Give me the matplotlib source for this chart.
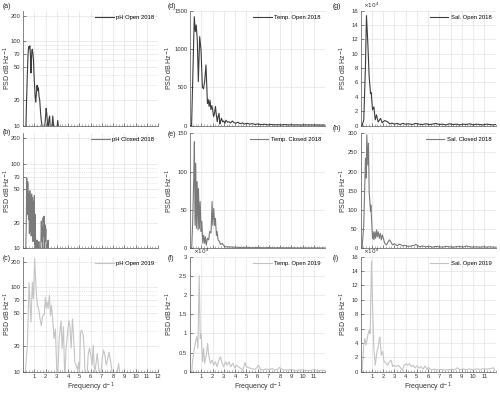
import matplotlib
matplotlib.use("Agg")
import matplotlib.pyplot as plt
from matplotlib.ticker import FixedLocator, FixedFormatter, MultipleLocator, NullFormatter
import numpy as np

plt.rcParams['font.family'] = ['Liberation Sans', 'DejaVu Sans']

# ---------------- data ----------------
# (a) pH Open 2018
ph_open18_f = [0.00, 0.20, 0.28, 0.36, 0.44, 0.50, 0.55, 0.60, 0.65, 0.70,
               0.74, 0.78, 0.82, 0.87, 0.92, 0.97, 1.02, 1.07, 1.12, 1.18,
               1.24, 1.30, 1.36, 1.42, 1.48, 1.54, 1.60, 1.66, 1.72, 1.80,
               1.90, 2.00, 2.05, 2.10, 2.16, 2.22, 2.30, 2.36, 2.42, 2.50,
               2.58, 2.64, 2.70, 2.78, 2.90, 3.00, 3.08, 3.16, 3.25, 3.40,
               4.00, 6.00, 9.00, 12.0]
ph_open18_v = [1, 5, 14, 35, 70, 86, 82, 88, 70, 42,
               60, 78, 80, 72, 60, 40, 30, 22, 19, 24,
               30, 26, 28, 22, 20, 15, 12, 10.5, 9, 8,
               9, 13, 16, 14, 11, 9, 12, 13, 9, 7,
               10, 13, 10, 8, 7, 9, 11.5, 9, 7, 5,
               3, 2, 1, 1]

# (b) pH Closed 2018
ph_closed18_f = [0.00, 0.22, 0.28, 0.32, 0.36, 0.40, 0.44, 0.48, 0.52, 0.56,
                 0.60, 0.64, 0.68, 0.72, 0.76, 0.80, 0.84, 0.88, 0.92, 0.96,
                 1.00, 1.04, 1.08, 1.12, 1.16, 1.20, 1.24, 1.28, 1.32, 1.36,
                 1.40, 1.44, 1.50, 1.56, 1.62, 1.66, 1.70, 1.74, 1.78, 1.82,
                 1.86, 1.90, 1.94, 1.98, 2.02, 2.06, 2.10, 2.16, 2.22, 2.26,
                 2.30, 2.40, 3.00, 6.00, 12.0]
ph_closed18_v = [1, 8, 18, 68, 25, 62, 58, 22, 45, 15,
                 48, 16, 42, 14, 44, 18, 40, 12, 36, 15,
                 42, 11, 25, 9, 12, 8, 12.5, 9, 11, 8,
                 12, 9, 8, 9, 21, 12, 18, 9, 23, 14,
                 24, 10, 19, 12, 17, 9, 11, 8, 12.5, 9,
                 7, 5, 3, 2, 1]

# (c) pH Open 2019
ph_open19_f = [0.00, 0.20, 0.38, 0.53, 0.70, 0.82, 0.91, 1.03, 1.15, 1.27,
               1.39, 1.51, 1.62, 1.74, 1.89, 1.98, 2.04, 2.13, 2.22, 2.34,
               2.43, 2.52, 2.63, 2.75, 2.87, 2.99, 3.08, 3.20, 3.38, 3.47,
               3.59, 3.70, 3.82, 3.94, 4.06, 4.15, 4.27, 4.39, 4.48, 4.60,
               4.71, 4.83, 4.95, 5.00, 5.10, 5.22, 5.34, 5.43, 5.52, 5.67,
               5.78, 5.90, 6.02, 6.14, 6.23, 6.35, 6.50, 6.59, 6.71, 6.86,
               7.03, 7.15, 7.27, 7.39, 7.51, 7.63, 7.75, 7.87, 7.95, 8.20,
               8.49, 8.64, 9.00, 12.0]
ph_open19_v = [1, 10, 20.6, 114, 38.7, 114, 73, 218, 95, 61,
               55, 42, 35, 46, 48, 76, 57, 67, 56, 81,
               46, 61, 42, 24.7, 32, 10.5, 8, 24.7, 40, 18.8,
               34, 8, 19, 27, 40, 36, 19, 42, 27, 13,
               12, 10.5, 13, 8, 29.5, 31, 27, 19, 8, 8,
               15.7, 19, 15.7, 12, 20.6, 9.5, 13, 16.5, 11, 8,
               14, 18, 15.7, 12, 14, 17, 14, 11, 8, 7,
               12.5, 8, 5, 2]

# (d) Temp. Open 2018
temp_open18_f = [0.00, 0.14, 0.26, 0.38, 0.47, 0.55, 0.65, 0.74, 0.86, 0.98,
                 1.10, 1.20, 1.30, 1.42, 1.55, 1.62, 1.70, 1.78, 1.86, 1.94,
                 2.02, 2.10, 2.18, 2.26, 2.34, 2.42, 2.50, 2.58, 2.65, 2.72,
                 2.80, 2.90, 3.00, 3.10, 3.20, 3.33, 3.46, 3.60, 3.77, 3.90,
                 4.06, 4.25, 4.45, 4.65, 4.85, 5.05, 5.30, 5.55, 5.80, 6.05,
                 6.30, 6.60, 6.90, 7.20, 7.50, 7.80, 8.10, 8.40, 8.70, 9.00,
                 9.30, 9.60, 9.90, 10.2, 10.5, 10.8, 11.1, 11.4, 11.7, 12.0]
temp_open18_v = [0, 0, 700, 1420, 1226, 1313, 1117, 573, 1160, 987,
                 500, 480, 573, 791, 291, 340, 250, 330, 210, 260,
                 200, 117, 160, 250, 140, 50, 120, 160, 20, 60,
                 95, 50, 60, 30, 70, 45, 50, 35, 60, 40,
                 30, 45, 25, 35, 20, 30, 20, 25, 15, 22,
                 12, 18, 10, 15, 10, 12, 8, 14, 9, 11,
                 8, 10, 7, 10, 8, 9, 7, 9, 6, 8]

# (e) Temp. Closed 2018
temp_closed18_f = [0.00, 0.15, 0.24, 0.33, 0.39, 0.45, 0.51, 0.57, 0.63, 0.72,
                   0.75, 0.84, 0.90, 0.99, 1.05, 1.14, 1.21, 1.30, 1.36, 1.45,
                   1.54, 1.66, 1.75, 1.87, 1.96, 2.02, 2.11, 2.20, 2.26, 2.35,
                   2.41, 2.50, 2.62, 2.71, 2.86, 3.00, 3.16, 3.46, 3.80, 4.20,
                   4.60, 5.00, 5.50, 6.00, 6.50, 7.00, 7.50, 8.00, 8.50, 9.00,
                   9.50, 10.0, 10.5, 11.0, 11.5, 12.0]
temp_closed18_v = [0, 0, 34.7, 91, 139, 30, 111, 26, 87, 24,
                   78, 26, 61, 22, 35, 6.5, 17, 6.5, 15, 4,
                   13, 11, 22, 20, 61, 30, 52, 30, 39, 17,
                   22, 11, 8.7, 5, 6.5, 3.5, 2, 1.8, 1.5, 1.2,
                   1.0, 1.3, 0.8, 1.0, 0.7, 0.9, 0.6, 0.8, 0.6, 0.7,
                   0.5, 0.6, 0.5, 0.6, 0.4, 0.5]

# (f) Temp. Open 2019 (x 10^4)
temp_open19_f = [0.00, 0.16, 0.22, 0.34, 0.46, 0.61, 0.70, 0.82, 0.91, 1.00,
                 1.12, 1.21, 1.30, 1.45, 1.57, 1.66, 1.81, 1.96, 2.11, 2.26,
                 2.41, 2.56, 2.71, 2.86, 3.00, 3.16, 3.30, 3.46, 3.63, 3.81,
                 3.99, 4.14, 4.29, 4.50, 4.71, 4.89, 5.00, 5.25, 5.49, 5.73,
                 5.90, 6.08, 6.26, 6.50, 6.74, 7.04, 7.28, 7.49, 7.79, 7.94,
                 8.24, 8.60, 9.00, 9.40, 9.80, 10.2, 10.6, 11.0, 11.4, 11.8, 12.0]
temp_open19_v = [0, 0, 0.26, 0.52, 0.74, 0.91, 0.61, 2.5, 0.87, 0.99,
                 0.26, 0.61, 0.22, 0.43, 0.74, 0.43, 0.22, 0.30, 0.17, 0.26,
                 0.13, 0.30, 0.39, 0.22, 0.13, 0.26, 0.17, 0.26, 0.13, 0.22,
                 0.09, 0.17, 0.13, 0.09, 0.04, 0.24, 0.13, 0.10, 0.08, 0.06,
                 0.09, 0.17, 0.06, 0.05, 0.07, 0.04, 0.09, 0.04, 0.06, 0.11,
                 0.05, 0.04, 0.06, 0.03, 0.05, 0.04, 0.03, 0.05, 0.03, 0.04, 0.03]

# (g) Sal. Open 2018 (x 10^4)
sal_open18_f = [0.00, 0.14, 0.29, 0.44, 0.53, 0.65, 0.77, 0.89, 0.95, 1.07,
                1.19, 1.31, 1.42, 1.57, 1.78, 1.93, 2.14, 2.38, 2.60, 2.80,
                3.00, 3.25, 3.50, 3.75, 4.00, 4.30, 4.60, 4.90, 5.20, 5.50,
                5.80, 6.10, 6.40, 6.70, 7.00, 7.30, 7.60, 7.90, 8.20, 8.50,
                8.80, 9.10, 9.40, 9.70, 10.0, 10.3, 10.6, 10.9, 11.2, 11.5, 11.8, 12.0]
sal_open18_v = [0, 0, 0.78, 8.2, 15.3, 11.5, 6.8, 4.5, 4.6, 2.2,
                2.6, 0.8, 1.5, 0.5, 1.0, 0.4, 0.7, 0.55, 0.25, 0.35,
                0.2, 0.3, 0.15, 0.3, 0.2, 0.25, 0.15, 0.3, 0.2, 0.15,
                0.25, 0.15, 0.2, 0.3, 0.15, 0.2, 0.1, 0.25, 0.15, 0.2,
                0.1, 0.2, 0.15, 0.25, 0.1, 0.2, 0.15, 0.1, 0.2, 0.15, 0.1, 0.15]

# (h) Sal. Closed 2018
sal_closed18_f = [0.00, 0.14, 0.29, 0.38, 0.44, 0.50, 0.56, 0.65, 0.71, 0.77,
                  0.83, 0.89, 0.92, 1.01, 1.07, 1.13, 1.19, 1.28, 1.34, 1.43,
                  1.49, 1.58, 1.67, 1.76, 1.85, 1.94, 2.03, 2.15, 2.33, 2.45,
                  2.57, 2.69, 2.84, 3.00, 3.14, 3.29, 3.45, 3.59, 3.75, 3.89,
                  4.10, 4.34, 4.60, 4.80, 4.94, 5.24, 5.50, 5.80, 6.10, 6.40,
                  6.70, 7.00, 7.30, 7.60, 7.90, 8.20, 8.50, 8.80, 9.10, 9.40,
                  9.70, 10.0, 10.3, 10.6, 10.9, 11.2, 11.5, 11.8, 12.0]
sal_closed18_v = [0, 0, 61, 165, 235, 183, 296, 217, 274, 148,
                  122, 96, 113, 61, 26, 43, 22, 43, 26, 48,
                  30, 43, 26, 39, 22, 35, 26, 13, 9, 17,
                  22, 17, 9, 12, 9, 7, 11, 9, 6, 8,
                  6, 5, 7, 8, 10, 4, 6, 4, 5, 3,
                  5, 4, 3, 5, 4, 3, 4, 5, 3, 6,
                  4, 3, 4, 3, 4, 3, 4, 3, 3]

# (i) Sal. Open 2019 (x 10^4)
sal_open19_f = [0.00, 0.14, 0.29, 0.38, 0.50, 0.65, 0.77, 0.86, 0.98, 1.07,
                1.19, 1.31, 1.46, 1.58, 1.67, 1.73, 1.85, 1.97, 2.09, 2.27,
                2.42, 2.57, 2.72, 2.87, 3.01, 3.19, 3.37, 3.58, 3.73, 3.88,
                4.06, 4.18, 4.36, 4.54, 4.72, 4.84, 5.02, 5.23, 5.38, 5.56,
                5.74, 5.92, 6.04, 6.28, 6.58, 6.88, 7.18, 7.47, 7.77, 8.07,
                8.37, 8.61, 8.82, 9.12, 9.42, 9.72, 10.01, 10.31, 10.61, 10.91,
                11.21, 11.51, 11.80, 11.95]
sal_open19_v = [0, 0, 3.7, 4.6, 3.7, 5.1, 5.8, 5.3, 15.4, 9.2,
                3.2, 0.9, 2.8, 3.5, 4.6, 4.8, 2.3, 2.8, 1.4, 1.2,
                0.9, 1.4, 1.6, 0.7, 0.9, 0.7, 0.9, 0.5, 0.2, 0.9,
                1.1, 0.9, 1.1, 0.7, 0.9, 0.5, 0.8, 0.5, 0.7, 0.35,
                0.8, 0.3, 0.6, 0.25, 0.35, 0.25, 0.3, 0.25, 0.25, 0.35,
                0.25, 0.55, 0.3, 0.37, 0.28, 0.37, 0.28, 0.4, 0.3, 0.4,
                0.37, 0.4, 0.55, 0.2]

legend_labels = ["pH Open 2018", "pH Closed 2018", "pH Open 2019",
                 "Temp. Open 2018", "Temp. Closed 2018", "Temp. Open 2019",
                 "Sal. Open 2018", "Sal. Closed 2018", "Sal. Open 2019"]
panel_letters = ["(a)", "(b)", "(c)", "(d)", "(e)", "(f)", "(g)", "(h)", "(i)"]

# ---------------- figure ----------------
W, H = 500, 393
fig = plt.figure(figsize=(W / 100, H / 100), dpi=100)

col_left = [23.1, 190.0, 360.5]
col_w = 135.0
row_bot = [125.6, 248.3, 371.7]
row_h = 115.0

colors = ["#3c3c3c", "#7a7a7a", "#c4c4c4"]

series = [
    (ph_open18_f, ph_open18_v), (ph_closed18_f, ph_closed18_v), (ph_open19_f, ph_open19_v),
    (temp_open18_f, temp_open18_v), (temp_closed18_f, temp_closed18_v), (temp_open19_f, temp_open19_v),
    (sal_open18_f, sal_open18_v), (sal_closed18_f, sal_closed18_v), (sal_open19_f, sal_open19_v),
]

ylims = [(10, 230), (10, 230), (10, 230), (0, 1500), (0, 150), (0, 3),
         (0, 16), (0, 300), (0, 16)]
yticks = [[10, 20, 50, 70, 100, 200]] * 3 + [
    [0, 500, 1000, 1500], [0, 50, 100, 150], [0, 0.5, 1, 1.5, 2, 2.5, 3],
    [0, 2, 4, 6, 8, 10, 12, 14, 16], [0, 50, 100, 150, 200, 250, 300],
    [0, 2, 4, 6, 8, 10, 12, 14, 16]]
offset = [None, None, None, None, None, r"$\times10^{4}$", r"$\times10^{4}$", None, r"$\times10^{4}$"]

label_pos = [(3, 6), (3, 132), (3, 259), (168, 6), (168, 134), (168, 258), (333, 6), (333, 129), (333, 258)]
ylab_x = [-0.075, -0.112, -0.085]

def fmt(v):
    return ("%g" % v)

for k in range(9):
    c = k // 3
    r = k % 3
    left = col_left[c] / W
    bottom = 1 - row_bot[r] / H
    ax = fig.add_axes([left, bottom, col_w / W, row_h / H])
    f, v = series[k]
    ax.plot(f, v, color=colors[r], lw=0.8, label=legend_labels[k])
    if c == 0:
        ax.set_yscale('log')
        ax.yaxis.set_minor_locator(FixedLocator([30, 40, 60, 80, 90]))
        ax.yaxis.set_minor_formatter(NullFormatter())
        ax.grid(True, which='minor', axis='y', color='#d0d0d0', lw=0.5, ls=':')
        ax.tick_params(axis='y', which='minor', length=0)
    ax.set_ylim(*ylims[k])
    ax.set_xlim(0, 12)
    ax.yaxis.set_major_locator(FixedLocator(yticks[k]))
    ax.yaxis.set_major_formatter(FixedFormatter([fmt(t) for t in yticks[k]]))
    xt = list(range(1, 13)) if c == 0 else list(range(1, 12))
    ax.set_xticks(xt)
    ax.xaxis.set_minor_locator(MultipleLocator(0.25))
    if r == 2:
        ax.set_xticklabels([str(t) for t in xt])
        ax.set_xlabel("Frequency d$^{-1}$", fontsize=5, color='#333333')
        ax.xaxis.set_label_coords(0.5, -0.075)
    else:
        ax.set_xticklabels([])
    ax.grid(True, which='major', color='#e3e3e3', lw=0.5)
    ax.set_axisbelow(True)
    for s in ['top', 'right']:
        ax.spines[s].set_visible(False)
    for s in ['left', 'bottom']:
        ax.spines[s].set_color('#555555')
        ax.spines[s].set_linewidth(0.5)
    ax.tick_params(axis='both', which='major', direction='in', length=2, width=0.5,
                   labelsize=4.2, colors='#555555', labelcolor='#333333', pad=2)
    ax.tick_params(axis='x', which='minor', direction='in', length=1.2, width=0.4, colors='#777777')
    ax.set_ylabel("PSD dB Hz$^{-1}$", fontsize=5, color='#333333')
    ax.yaxis.set_label_coords(ylab_x[c], 0.5)
    leg = ax.legend(loc='upper right', frameon=False, fontsize=4.2, handlelength=3.2,
                    handletextpad=0.4, borderaxespad=0.3)
    if offset[k]:
        ax.text(0.02, 1.005, offset[k], transform=ax.transAxes, fontsize=4.2,
                color='#333333', ha='left', va='bottom')
    lx, ly = label_pos[k]
    fig.text(lx / W, 1 - ly / H, panel_letters[k], fontsize=5, color='#222222',
             ha='left', va='center')

fig.savefig("out.png", dpi=100)
